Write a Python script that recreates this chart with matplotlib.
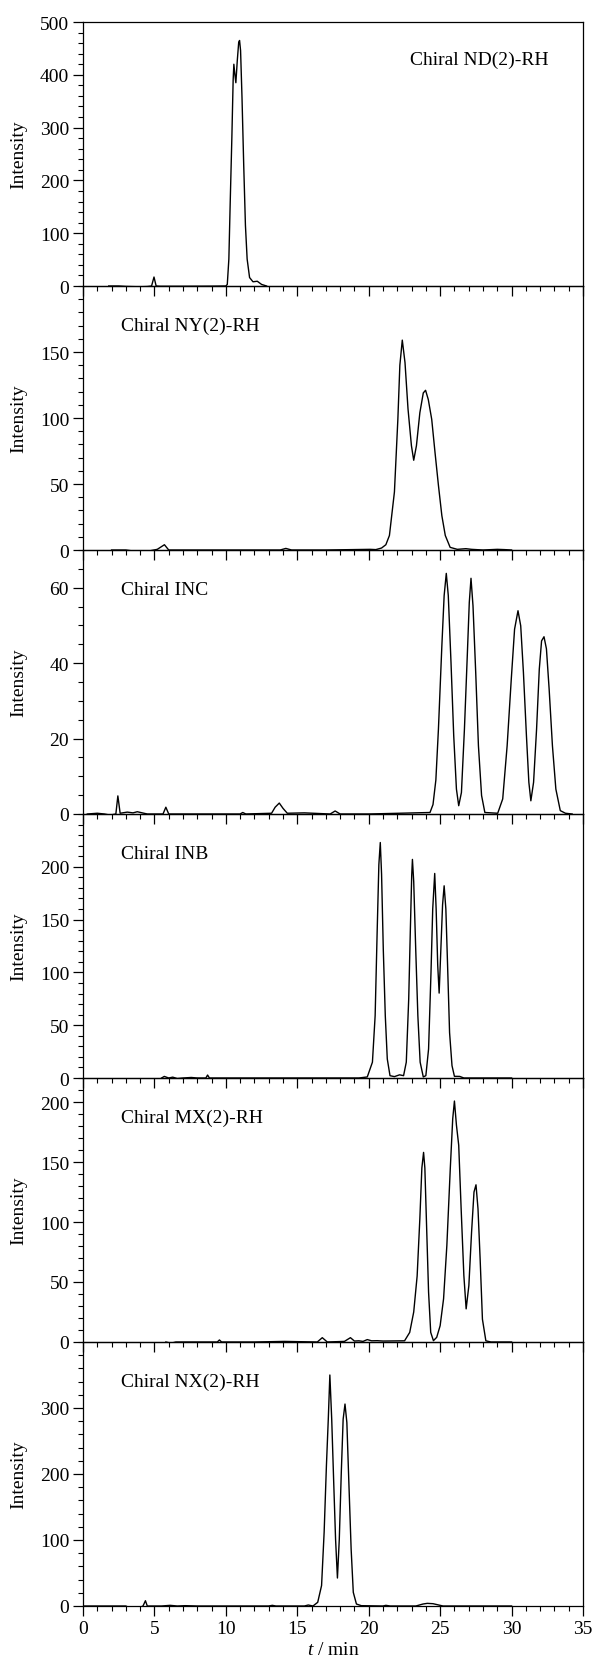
import matplotlib
matplotlib.use("Agg")
import matplotlib.pyplot as plt
from matplotlib.ticker import MultipleLocator, FixedLocator

plt.rcParams['font.family'] = ['Liberation Serif', 'DejaVu Serif']
plt.rcParams['mathtext.fontset'] = 'custom'
plt.rcParams['mathtext.rm'] = 'Liberation Serif'
plt.rcParams['mathtext.it'] = 'Liberation Serif:italic'

# ---- traced data (time in min, intensity) ----
nd_t = [1.8, 2.5, 3.0, 3.5, 4.0, 4.5, 4.8, 4.97, 5.12, 5.4, 7.0, 9.0, 10.0, 10.1, 10.21, 10.3, 10.42, 10.51,
        10.56, 10.63, 10.7, 10.8, 10.9, 10.96, 11.03, 11.13, 11.25, 11.37, 11.49, 11.66, 11.9, 12.2, 12.5, 12.85]
nd_i = [0, 0, -0.8, -1.2, -1.5, -1.0, 0, 17, 0, -0.5, -0.5, -0.3, 0, 3, 51, 153, 281, 390,
        420, 401, 385, 427, 462, 465, 446, 357, 229, 115, 51, 16, 8, 9, 3, 0]

ny_t = [2.0, 3.0, 3.8, 4.5, 5.2, 5.7, 6.0, 8, 10, 13.8, 14.2, 14.6, 17, 20.1, 20.5, 20.9, 21.2, 21.45, 21.8,
        22.04, 22.18, 22.35, 22.54, 22.75, 22.99, 23.15, 23.34, 23.58, 23.82, 23.98, 24.17, 24.41, 24.64,
        24.88, 25.12, 25.36, 25.7, 26.2, 26.8, 27.2, 28.0, 29.0, 29.5, 30.0]
ny_i = [0, 0, -1.2, -1.0, 0.5, 4, 0, 0, 0, 0, 1.2, 0, 0, 0.5, 0.3, 1.5, 4, 11, 44,
        99, 140, 159, 142, 107, 79, 68, 79, 104, 119, 121, 114, 99, 74,
        49, 26, 11, 2, 0.5, 1, 0.5, 0, 0.5, 0.3, 0]

inc_t = [0.3, 1.0, 1.5, 1.9, 2.3, 2.44, 2.6, 3.1, 3.5, 3.8, 4.5, 5.6, 5.8, 6.0, 8, 11.0, 11.18, 11.4, 13.2,
         13.45, 13.74, 14.0, 14.3, 15.5, 17.3, 17.65, 18.0, 20, 24.29, 24.5, 24.7, 24.88, 25.12, 25.28, 25.43,
         25.57, 25.76, 25.95, 26.14, 26.3, 26.49, 26.7, 26.9, 27.04, 27.16, 27.3, 27.49, 27.68, 27.9, 28.13,
         29.03, 29.38, 29.69, 29.98, 30.21, 30.45, 30.64, 30.83, 31.04, 31.21, 31.35, 31.54, 31.75, 31.94,
         32.1, 32.27, 32.44, 32.63, 32.86, 33.1, 33.41, 33.77, 34.24]
inc_i = [0, 0.2, 0, -0.3, 0, 4.8, 0.2, 0.5, 0.3, 0.6, 0, 0, 1.8, 0, 0, 0, 0.4, 0, 0.2,
         1.8, 2.9, 1.5, 0.2, 0.3, 0, 0.8, 0, 0, 0.4, 2.5, 9, 22.5, 44.6, 57.9, 63.8,
         57.9, 40.2, 20.8, 6.6, 2.2, 5.7, 22.5, 42, 56.1, 62.5, 55.2, 37.5, 18.1, 4.9, 0.4,
         0.2, 4, 18.1, 35.8, 49, 53.9, 49.9, 37.5, 20.8, 8.4, 3.5, 8.4, 22.5, 38.4,
         45.9, 47, 43.8, 33.1, 18.1, 6.6, 0.9, 0.2, 0]

inb_t = [5.5, 5.69, 6.0, 6.28, 6.6, 7.0, 7.58, 8.0, 8.6, 8.72, 8.85, 10, 15, 19.31, 19.9, 20.26, 20.45, 20.59,
         20.71, 20.81, 20.9, 21.02, 21.16, 21.3, 21.49, 21.8, 22.16, 22.44, 22.63, 22.8, 22.91, 23.01, 23.06,
         23.15, 23.29, 23.44, 23.6, 23.82, 24.0, 24.19, 24.36, 24.48, 24.62, 24.72, 24.83, 24.93, 25.05, 25.17,
         25.28, 25.4, 25.52, 25.66, 25.83, 26.0, 26.37, 26.66, 30.0]
inb_i = [0, 1.5, 0, 0.8, -0.5, 0, 0.5, 0, 0, 2.8, 0, 0, 0, 0, 1, 15, 59, 138,
         202, 223, 193, 122, 59, 18, 2.2, 1.3, 3, 2.2, 15, 75, 138, 192, 207,
         186, 122, 59, 15, 1, 2.2, 27.5, 100, 160, 193.7, 160, 107, 80.4, 122, 164,
         182, 160, 107, 43, 11.7, 1.6, 1.5, 0, 0]

mx_t = [5.8, 6.16, 6.5, 8, 9.4, 9.55, 9.7, 12, 14.1, 16.4, 16.75, 17.1, 18.3, 18.72, 19.0, 19.31, 19.6, 19.9,
        20.2, 20.6, 21.0, 22.51, 22.87, 23.15, 23.39, 23.58, 23.72, 23.84, 23.93, 24.05, 24.19, 24.34, 24.53,
        24.76, 25.0, 25.24, 25.47, 25.71, 25.88, 26.0, 26.14, 26.3, 26.47, 26.66, 26.82, 27.01, 27.2, 27.37,
        27.51, 27.65, 27.8, 27.96, 28.2, 28.55, 30.0]
mx_i = [0, -1, 0, 0, 0, 1.7, 0, 0, 0.5, 0, 3.6, 0, 0.5, 3.6, 0.8, 1, 0.5, 2,
        1, 1.1, 0.8, 1, 8, 25, 55, 103, 145, 158, 145, 97, 41.5, 8, 1.1,
        3.9, 13.6, 36, 80.5, 144.6, 186, 200.8, 180.8, 164, 111, 55.4, 27.6, 47, 91.6, 125,
        131, 111, 69, 19, 1, 0, 0]

nx_t = [0, 3.0, 3.2, 3.6, 4.0, 4.2, 4.37, 4.5, 5.5, 6.1, 6.6, 7.16, 8, 13.0, 13.25, 13.5, 15.5, 15.77, 16.1,
        16.43, 16.7, 16.88, 17.04, 17.17, 17.28, 17.41, 17.55, 17.68, 17.81, 17.94, 18.08, 18.21, 18.34, 18.47,
        18.61, 18.77, 18.92, 19.14, 19.48, 21.0, 21.2, 21.5, 23.3, 23.8, 24.1, 24.5, 25.2, 30.0]
nx_i = [0, 0, -2, -2.2, -2, 0, 8, 0, 0, 1, 0, 0.5, 0, 0, 1, 0, 0, 1.5, 0,
        5.6, 31, 112, 213, 283, 350, 283, 187, 101, 42.4, 101, 202, 283, 306, 278,
        187, 86, 20.7, 3, 0.5, 0, 1, 0, 0, 3, 4, 3.5, 0, 0]

column_names = ["Chiral ND(2)-RH", "Chiral NY(2)-RH", "Chiral INC", "Chiral INB",
                "Chiral MX(2)-RH", "Chiral NX(2)-RH"]
series_t = [nd_t, ny_t, inc_t, inb_t, mx_t, nx_t]
series_i = [nd_i, ny_i, inc_i, inb_i, mx_i, nx_i]
y_max = [500, 200, 70, 250, 220, 400]
y_major = [[0, 100, 200, 300, 400, 500], [0, 50, 100, 150], [0, 20, 40, 60],
           [0, 50, 100, 150, 200], [0, 50, 100, 150, 200], [0, 100, 200, 300]]
y_minor = [20, 10, 5, 10, 10, 20]
x_ticks = [0, 5, 10, 15, 20, 25, 30, 35]

fig = plt.figure(figsize=(5.93, 16.65), dpi=100)
left = 83 / 593
width = 500 / 593
ph = 264 / 1665
bottom0 = 1 - 1607 / 1665
label_pos = [(0.653, 0.86), (0.076, 0.85), (0.076, 0.85), (0.076, 0.85), (0.076, 0.85), (0.076, 0.85)]

for k in range(6):
    b = bottom0 + (5 - k) * ph
    ax = fig.add_axes([left, b, width, ph])
    ax.patch.set_alpha(0)
    ax.plot(series_t[k], series_i[k], color='black', lw=1.0)
    ax.set_xlim(0, 35)
    ax.set_ylim(0, y_max[k])
    ax.xaxis.set_major_locator(FixedLocator(x_ticks))
    ax.xaxis.set_minor_locator(MultipleLocator(1))
    ax.yaxis.set_major_locator(FixedLocator(y_major[k]))
    ax.yaxis.set_minor_locator(MultipleLocator(y_minor[k]))
    ax.tick_params(which='major', direction='out', length=7, width=0.9, labelsize=14, pad=3)
    ax.tick_params(which='minor', direction='out', length=3.5, width=0.8)
    ax.tick_params(top=False, right=False)
    for s in ax.spines.values():
        s.set_linewidth(0.9)
    if k < 5:
        ax.tick_params(labelbottom=False)
    else:
        ax.set_xlabel(r'$t$ / min', fontsize=14, labelpad=3)
    ax.set_ylabel('Intensity', fontsize=14)
    ax.yaxis.set_label_coords(-0.112, 0.5)
    ax.text(label_pos[k][0], label_pos[k][1], column_names[k], transform=ax.transAxes,
            fontsize=14, va='center', ha='left')

fig.savefig('out.png', dpi=100)
